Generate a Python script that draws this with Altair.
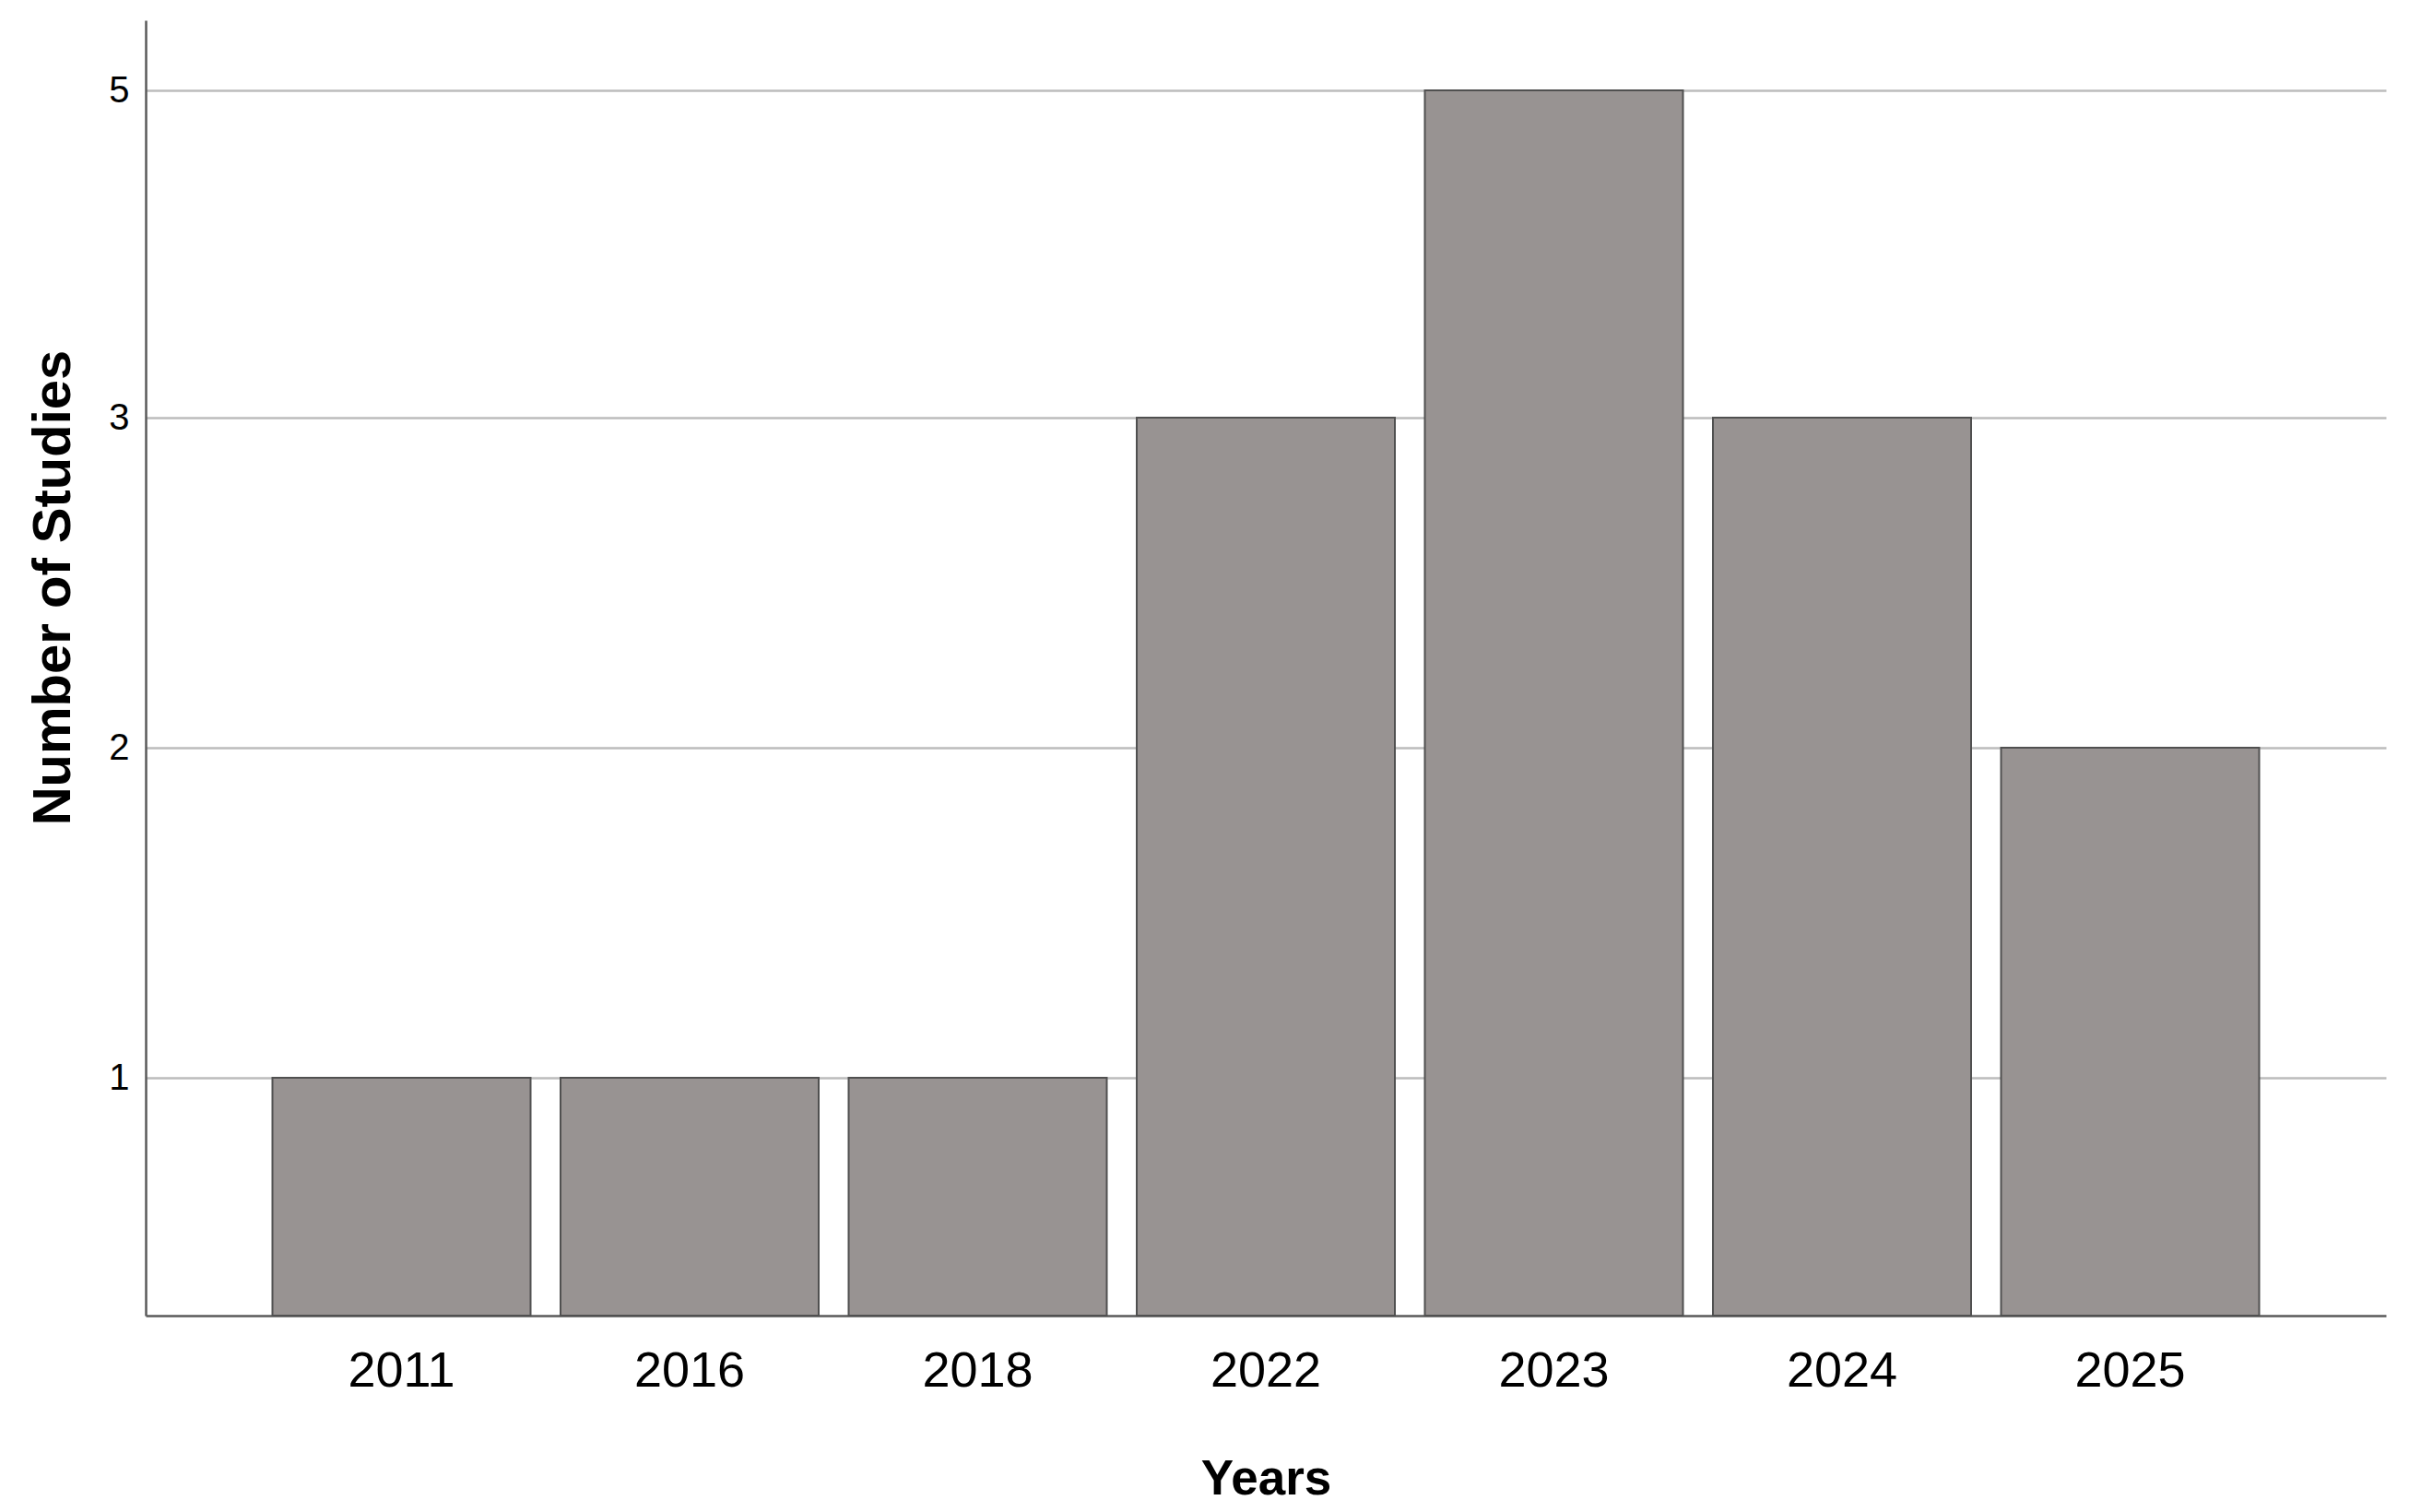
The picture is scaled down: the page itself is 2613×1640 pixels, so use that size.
import altair as alt
import pandas as pd

years = ["2011", "2016", "2018", "2022", "2023", "2024", "2025"]
studies = [1, 1, 1, 3, 5, 3, 2]
y_ticks = [1, 2, 3, 5]

# SPSS-style axis: the labelled counts are evenly spaced (piecewise scale)
Y_BASE = 0.28
Y_TOP = 5.43
y_domain = [Y_BASE, 1, 2, 3, 5, Y_TOP]
y_range = [1405, 1147, 789, 431, 76, 0]

df = pd.DataFrame({"Years": years, "Studies": studies})

NARROW = "Liberation Sans Narrow, Arial Narrow, Liberation Sans, Arial"
REG = "Liberation Sans, Arial"

bars = alt.Chart(df).mark_bar(
    fill="#989392", stroke="#505050", strokeWidth=2
).encode(
    x=alt.X("Years:N", sort=years,
            scale=alt.Scale(paddingInner=0.104, paddingOuter=0.44),
            axis=alt.Axis(title="Years", labelAngle=0, labelFont=NARROW,
                          labelFontSize=54, labelColor="#000000",
                          labelPadding=33, ticks=False, grid=False,
                          domainColor="#5a5a5a", domainWidth=2.5,
                          titleFont=NARROW, titleFontSize=53,
                          titleFontWeight="bold", titleColor="#000000",
                          titleBaseline="alphabetic", titleY=193)),
    y=alt.Y("Studies:Q",
            scale=alt.Scale(domain=y_domain, range=y_range, nice=False,
                            zero=False),
            axis=alt.Axis(title="Number of Studies", values=y_ticks,
                          format="d", ticks=False, grid=True,
                          gridColor="#bcbcbc", gridWidth=2.5,
                          labelFont=REG, labelFontSize=40,
                          labelColor="#000000", labelPadding=18,
                          domainColor="#5a5a5a", domainWidth=2.5,
                          titleFont=REG, titleFontSize=58,
                          titleFontWeight="bold", titleColor="#000000",
                          titleAngle=270, titleAlign="center",
                          titleBaseline="alphabetic",
                          titleX=-83, titleY=615)),
    y2=alt.datum(Y_BASE),
)

chart = bars.properties(
    width=2430, height=1405,
    autosize=alt.AutoSizeParams(type="none"),
    padding={"left": 150, "top": 14, "right": 17, "bottom": 212},
    view=alt.ViewBackground(stroke="transparent", strokeWidth=0),
).configure_view(strokeWidth=0, stroke="transparent").configure(background="white")

chart.save("out.html", embed_options={"renderer": "svg", "actions": False})
